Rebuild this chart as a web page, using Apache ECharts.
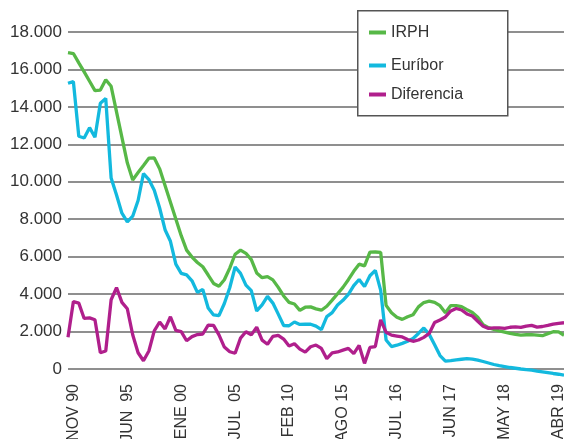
<!DOCTYPE html>
<html>
<head>
  <meta charset="UTF-8">
  <title>IRPH vs Euribor</title>
  <style>
    html, body { margin: 0; padding: 0; background: #fff; }
    #chart { width: 564px; height: 439px; }
  </style>
  <script src="https://cdn.jsdelivr.net/npm/echarts@6/dist/echarts.min.js"></script>
</head>
<body>
  <div id="chart"></div>
  <script>
    // etiquetas del eje X (una cada 10 puntos, empezando en el punto 1)
    var tickLabels = ['NOV 90', 'JUN  95', 'ENE 00', 'JUL  05', 'FEB 10', 'AGO 15', 'JUL  16', 'JUN 17', 'MAY 18', 'ABR 19'];

    var irph = [16900, 16850, 16350, 15870, 15370, 14870, 14900, 15450, 15100, 13730,
      12370, 11010, 10100, 10490, 10870, 11260, 11270, 10690, 9800, 8910,
      8010, 7120, 6350, 5980, 5690, 5460, 5020, 4570, 4420, 4770,
      5390, 6130, 6350, 6180, 5840, 5130, 4880, 4930, 4760, 4360,
      3900, 3560, 3470, 3130, 3300, 3320, 3210, 3140, 3350, 3680,
      4020, 4360, 4770, 5220, 5600, 5510, 6240, 6250, 6230, 3400,
      3000, 2760, 2650, 2790, 2900, 3320, 3550, 3620, 3560, 3380,
      3000, 3390, 3390, 3330, 3170, 3020, 2760, 2360, 2210, 2120,
      2040, 1970, 1900, 1850, 1810, 1830, 1840, 1810, 1780, 1890,
      1990, 1980, 1800];

    var euribor = [15260, 15350, 12430, 12340, 12890, 12380, 14200, 14450, 10200, 9290,
      8320, 7860, 8160, 9000, 10440, 10120, 9550, 8600, 7440, 6820,
      5600, 5110, 5030, 4710, 4090, 4250, 3260, 2890, 2850, 3500,
      4340, 5450, 5110, 4480, 4190, 3100, 3420, 3880, 3520, 2930,
      2320, 2310, 2510, 2380, 2400, 2390, 2290, 2100, 2800, 3010,
      3420, 3670, 3990, 4450, 4780, 4400, 4980, 5270, 4200, 1550,
      1200, 1270, 1370, 1480, 1630, 1900, 2190, 1850, 1300, 720,
      420, 450, 490, 520, 550, 530, 470, 400, 320, 240,
      180, 130, 80, 40, 0, -30, -60, -110, -150, -190,
      -240, -280, -330];

    var diferencia = [1700, 3600, 3520, 2700, 2730, 2630, 870, 960, 3700, 4350,
      3560, 3220, 1830, 870, 440, 960, 2040, 2510, 2140, 2790,
      2060, 2000, 1510, 1730, 1840, 1870, 2340, 2330, 1820, 1170,
      920, 840, 1650, 1990, 1820, 2230, 1540, 1320, 1740, 1800,
      1600, 1230, 1350, 1060, 900, 1190, 1280, 1100, 550, 860,
      910, 1010, 1100, 820, 1260, 300, 1150, 1200, 2620, 1960,
      1810, 1760, 1710, 1570, 1480, 1550, 1690, 1900, 2480, 2620,
      2780, 3100, 3230, 3150, 2940, 2830, 2550, 2280, 2170, 2200,
      2200, 2170, 2230, 2250, 2220, 2290, 2330, 2240, 2270, 2330,
      2400, 2440, 2470];

    var seriesNames = ['IRPH', 'Euríbor', 'Diferencia'];
    var colors = ['#57b847', '#13b9de', '#b01f8c'];

    var categories = [];
    for (var i = 0; i < irph.length; i++) {
      categories.push((i - 1) % 10 === 0 ? tickLabels[(i - 1) / 10] : '');
    }

    function fmtNum(v) {
      if (v === 0) return '0';
      return (v / 1000).toFixed(3);
    }

    var chart = echarts.init(document.getElementById('chart'));

    var legendTops = [24, 57, 86];
    var legends = seriesNames.map(function (n, k) {
      return {
        data: [n],
        left: 369,
        top: legendTops[k],
        padding: 0,
        icon: 'rect',
        itemWidth: 17,
        itemHeight: 4,
        itemGap: 6,
        z: 20,
        selectedMode: false,
        textStyle: { fontFamily: 'Liberation Sans', fontSize: 16, color: '#333', lineHeight: 17 }
      };
    });

    var option = {
      animation: false,
      color: colors,
      grid: { left: 68, right: 0, top: 32, bottom: 70, containLabel: false, outerBoundsMode: 'none' },
      graphic: [{
        type: 'rect',
        left: 357, top: 10,
        shape: { width: 150, height: 105 },
        style: { fill: '#fff', stroke: '#555', lineWidth: 1.5 },
        z: 10
      }],
      legend: legends,
      xAxis: {
        type: 'category',
        boundaryGap: false,
        data: categories,
        axisLine: { show: false },
        axisTick: { show: false },
        splitLine: { show: false },
        axisLabel: {
          interval: 0,
          rotate: 90,
          margin: 15,
          fontFamily: 'Liberation Sans',
          fontSize: 16,
          color: '#333'
        }
      },
      yAxis: {
        type: 'value',
        min: 0,
        max: 18000,
        interval: 2000,
        axisLine: { show: false },
        axisTick: { show: false },
        splitLine: { lineStyle: { color: '#6a6a6a', width: 1.5 } },
        axisLabel: {
          margin: 6,
          fontFamily: 'Liberation Sans',
          fontSize: 17,
          color: '#333',
          formatter: fmtNum
        }
      },
      series: [
        { name: seriesNames[0], type: 'line', data: irph },
        { name: seriesNames[1], type: 'line', data: euribor },
        { name: seriesNames[2], type: 'line', data: diferencia }
      ].map(function (s, k) {
        s.showSymbol = false;
        s.clip = false;
        s.lineStyle = { width: 3.3, color: colors[k] };
        s.z = 3;
        return s;
      })
    };

    chart.setOption(option);
  </script>
</body>
</html>
